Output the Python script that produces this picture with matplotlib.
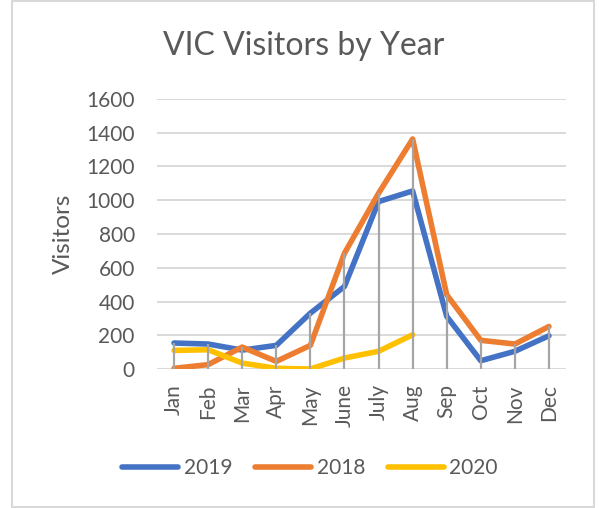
import matplotlib
matplotlib.use("Agg")
import matplotlib.pyplot as plt
from matplotlib.patches import Rectangle
import numpy as np

months = ["Jan", "Feb", "Mar", "Apr", "May", "June", "July", "Aug", "Sep", "Oct", "Nov", "Dec"]
v2019 = [154, 148, 112, 140, 331, 489, 992, 1055, 312, 49, 105, 197]
v2018 = [4, 26, 130, 45, 140, 686, 1041, 1363, 440, 170, 148, 252]
v2020 = [110, 114, 35, 4, 0, 65, 105, 203]
series_names = ["2019", "2018", "2020"]
yticks = [0, 200, 400, 600, 800, 1000, 1200, 1400, 1600]

TXT = "#595959"
plt.rcParams['font.family'] = ['Lato', 'DejaVu Sans']

fig = plt.figure(figsize=(5.99, 5.08), dpi=100)
W, H = 599, 508

# outer chart border
fig.patches.append(Rectangle((12 / W, 1 / H), (594 - 12) / W, (507 - 1) / H,
                             transform=fig.transFigure, fill=False,
                             edgecolor="#D9D9D9", lw=1.5))

ax = fig.add_axes([157 / W, (H - 369) / H, (566 - 157) / W, (369 - 99) / H])
x = np.arange(len(months))

for yv in yticks:
    ax.axhline(yv, color="#D9D9D9", lw=1.4, zorder=1)

LW = 4.0
ax.plot(x, v2019, color="#4472C4", lw=LW, solid_capstyle="round", solid_joinstyle="round", zorder=3, label=series_names[0])
ax.plot(x, v2018, color="#ED7D31", lw=LW, solid_capstyle="round", solid_joinstyle="round", zorder=3, label=series_names[1])
ax.plot(x[:len(v2020)], v2020, color="#FFC000", lw=LW, solid_capstyle="round", solid_joinstyle="round", zorder=3, label=series_names[2])

tops = []
for i in range(len(months)):
    vals = [v2019[i], v2018[i]] + ([v2020[i]] if i < len(v2020) else [])
    tops.append(max(vals))
ax.vlines(x, 0, tops, color="#A5A5A5", lw=1.6, zorder=4)

ax.set_xlim(-0.5, len(months) - 0.5)
ax.set_ylim(0, 1600)
ax.set_yticks(yticks)
ax.set_yticklabels([str(t) for t in yticks])
ax.set_xticks(x)
ax.set_xticklabels(months, rotation=90)
ax.tick_params(length=0, labelsize=15, colors=TXT)
ax.tick_params(axis='x', pad=11)
ax.tick_params(axis='y', pad=16)
for s in ax.spines.values():
    s.set_visible(False)
ax.set_ylabel("Visitors", fontsize=17.5, color=TXT, labelpad=9)

fig.text(304 / W, 1 - 46 / H, "VIC Visitors by Year", ha="center", va="center",
         fontsize=23, color=TXT)

leg = fig.legend(loc="center", bbox_to_anchor=(310 / W, 1 - 468 / H), ncol=3,
                 frameon=False, fontsize=15, handlelength=2.7, handletextpad=0.25,
                 columnspacing=1.1, labelcolor=TXT)
for l in leg.get_lines():
    l.set_linewidth(LW)
    l.set_solid_capstyle("round")

fig.savefig("out.png", dpi=100)
